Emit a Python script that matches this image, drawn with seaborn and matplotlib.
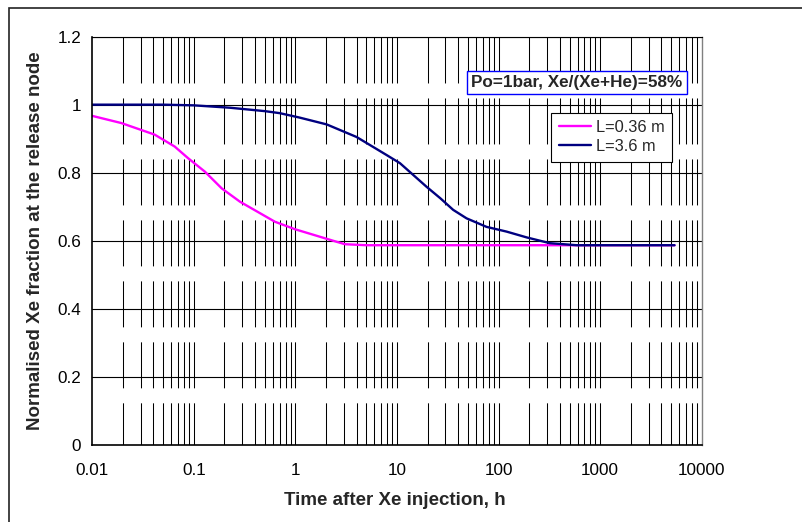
import numpy as np
import pandas as pd
import matplotlib
matplotlib.use("Agg")
import matplotlib.pyplot as plt
import matplotlib.patches as mpatches
import seaborn as sns

# ---- data ----
time_short = [0.01, 0.0193, 0.0411, 0.0647, 0.0875, 0.1286, 0.188, 0.284, 0.628, 0.99, 2.36, 3.07, 5.0, 10.0, 100.0, 1000.0, 5400.0]
frac_short = [0.967, 0.946, 0.912, 0.877, 0.843, 0.803, 0.754, 0.715, 0.656, 0.634, 0.600, 0.590, 0.587, 0.587, 0.587, 0.587, 0.587]

time_long = [0.01, 0.05, 0.1, 0.2266, 0.5, 0.703, 1.1, 2.03, 4.0, 7.9, 10.7, 19.5, 26.7, 35.7, 48.4, 76.0, 120.0, 189.0, 320.0, 590.0, 1000.0, 5400.0]
frac_long = [1.0, 1.0, 0.998, 0.991, 0.981, 0.975, 0.962, 0.942, 0.905, 0.852, 0.828, 0.759, 0.725, 0.691, 0.666, 0.641, 0.627, 0.610, 0.593, 0.587, 0.587, 0.587]

series_labels = ["L=0.36 m", "L=3.6 m"]
series_colors = ["#FF00FF", "#000080"]
x_ticks = [0.01, 0.1, 1, 10, 100, 1000, 10000]
x_ticklabels = ["0.01", "0.1", "1", "10", "100", "1000", "10000"]
y_ticks = [0, 0.2, 0.4, 0.6, 0.8, 1.0, 1.2]
y_ticklabels = ["0", "0.2", "0.4", "0.6", "0.8", "1", "1.2"]
annotation = "Po=1bar, Xe/(Xe+He)=58%"
x_label = "Time after Xe injection, h"
y_label = "Normalised Xe fraction at the release node"

df = pd.concat([
    pd.DataFrame({"time": time_short, "frac": frac_short, "series": series_labels[0]}),
    pd.DataFrame({"time": time_long, "frac": frac_long, "series": series_labels[1]}),
], ignore_index=True)

sns.set_style("white")
plt.rcParams["font.family"] = ["Liberation Sans", "DejaVu Sans"]
plt.rcParams["lines.scale_dashes"] = False

fig = plt.figure(figsize=(8.02, 5.22), dpi=100)
ax = fig.add_axes([92.3 / 802, 1 - 445 / 522, (701.7 - 92.3) / 802, (445 - 36.6) / 522])

sns.lineplot(data=df, x="time", y="frac", hue="series", palette=series_colors,
             hue_order=series_labels, linewidth=1.7, ax=ax, estimator=None, sort=False)

ax.set_xscale("log")
ax.set_xlim(0.01, 10000)
ax.set_ylim(0, 1.2)

# horizontal grid
for yv in y_ticks[1:]:
    ax.axhline(yv, color="black", lw=0.8, zorder=1)

# vertical dashed grid (from top downwards)
grid_x = [k * 10.0 ** n for n in range(-2, 4) for k in range(1, 10)][1:]
ax.vlines(grid_x, ymin=1, ymax=0, transform=ax.get_xaxis_transform(),
          colors="black", linewidth=0.75, linestyles=[(0, (33.1, 10.8))], zorder=1)

ax.set_xticks(x_ticks)
ax.set_xticklabels(x_ticklabels)
ax.set_yticks(y_ticks)
ax.set_yticklabels(y_ticklabels)
ax.xaxis.set_minor_locator(matplotlib.ticker.NullLocator())
ax.tick_params(axis="both", which="major", direction="out", length=4, width=0.9,
               color="black", labelsize=12.3, labelcolor="black")
ax.tick_params(axis="x", pad=9)
ax.tick_params(axis="y", pad=4)

for side in ["left", "bottom"]:
    ax.spines[side].set_color("black")
    ax.spines[side].set_linewidth(1.2)
ax.spines["top"].set_color("black")
ax.spines["top"].set_linewidth(0.8)
ax.spines["right"].set_color("#808080")
ax.spines["right"].set_linewidth(1.0)

ax.set_xlabel(x_label, fontsize=13.5, fontweight="bold")
ax.set_ylabel(y_label, fontsize=13.5, fontweight="bold")
ax.xaxis.set_label_coords(0.4967, -0.1347)
ax.xaxis.label.set_va("center")
ax.yaxis.set_label_coords(-0.0924, 0.5)
ax.yaxis.label.set_va("center")

# draw navy on top
for ln in ax.get_lines():
    if ln.get_label() == series_labels[1]:
        ln.set_zorder(4)
    elif ln.get_label() == series_labels[0]:
        ln.set_zorder(3)

leg = ax.legend(loc="upper left", bbox_to_anchor=(0.753, 0.8137), fontsize=11.8,
                frameon=True, fancybox=False, edgecolor="black", framealpha=1,
                borderaxespad=0, borderpad=0.45, handlelength=2.0, handletextpad=0.3,
                labelspacing=0.25, title=None)
leg.get_frame().set_linewidth(0.8)
for h in leg.get_lines():
    h.set_linewidth(1.7)

ax.text(0.6219, 0.888, annotation, transform=ax.transAxes, ha="left", va="center",
        fontsize=12.3, fontweight="bold", zorder=6,
        bbox=dict(boxstyle="square,pad=0.25", fc="white", ec="#0000FF", lw=1.0))

# outer chart border
fig.patches.append(mpatches.Rectangle((9 / 802, -0.1), 1.2, (522 - 8) / 522 + 0.1,
                                      transform=fig.transFigure, fill=False,
                                      edgecolor="#222222", lw=1.2, clip_on=False))

fig.savefig("out.png", dpi=100)
